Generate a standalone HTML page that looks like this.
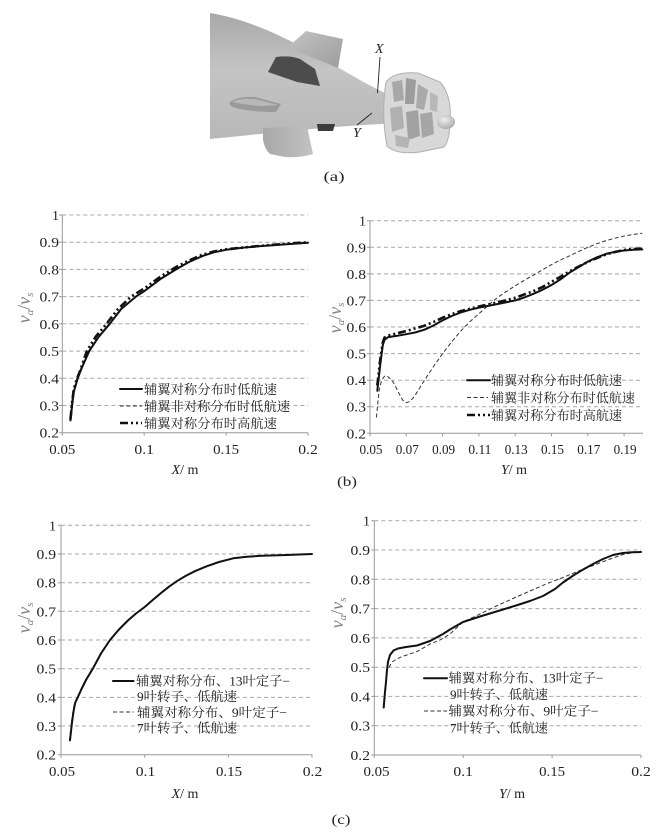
<!DOCTYPE html>
<html>
<head>
<meta charset="utf-8">
<style>
html,body{margin:0;padding:0;background:#fff;}
svg{display:block;}
.tk{font-family:"Liberation Serif","Noto Serif CJK SC",serif;font-size:14px;fill:#222;}
.lg{font-family:"Liberation Serif","Noto Serif CJK SC",serif;font-size:13px;fill:#222;}
.ti{font-family:"Liberation Serif",serif;font-size:14px;fill:#222;}
.yl{font-family:"Liberation Serif",serif;font-size:18px;fill:#808080;font-style:italic;}
.grid{stroke:#a8a8a8;stroke-width:1;stroke-dasharray:4,3;fill:none;}
.ax{stroke:#999;stroke-width:1;fill:none;}
.s{fill:none;stroke:#111;stroke-width:2;stroke-linejoin:round;stroke-linecap:round;}
.d{fill:none;stroke:#333;stroke-width:1;stroke-dasharray:4,2.5;stroke-linejoin:round;}
.dd{fill:none;stroke:#111;stroke-width:2.6;stroke-dasharray:8,3,2,3,2,3;stroke-linejoin:round;}
</style>
</head>
<body>
<svg width="662" height="837" viewBox="0 0 662 837" xmlns="http://www.w3.org/2000/svg">
<defs>
<linearGradient id="hull" x1="0" y1="0" x2="0" y2="1">
<stop offset="0" stop-color="#a8a8a8"/><stop offset="0.45" stop-color="#c4c4c4"/><stop offset="1" stop-color="#b8b8b8"/>
</linearGradient>
<linearGradient id="fin" x1="0" y1="0" x2="1" y2="1">
<stop offset="0" stop-color="#c4c4c4"/><stop offset="1" stop-color="#9c9c9c"/>
</linearGradient>
<linearGradient id="fin2" x1="0" y1="0" x2="1" y2="0">
<stop offset="0" stop-color="#a8a8a8"/><stop offset="1" stop-color="#c2c2c2"/>
</linearGradient>
<radialGradient id="hub" cx="0.4" cy="0.35" r="0.7">
<stop offset="0" stop-color="#f0f0f0"/><stop offset="1" stop-color="#a8a8a8"/>
</radialGradient>
</defs>

<!-- ===== (a) image ===== -->
<g>
<path d="M210,13 C240,18 270,30 300,46 C330,62 358,80 383,92 L388,96 L388,122 L383,124 C360,125 320,128 290,131 C260,134 232,137 210,139 Z" fill="url(#hull)"/>
<path d="M287,48 L306,31 L343,39 L338,68 Q315,58 287,48 Z" fill="url(#fin)"/>
<path d="M268,72 L276,57 Q290,55 300,59 L315,69 L320,86 L297,82 Z" fill="#4c4c4c"/>
<path d="M230,102 Q238,96 255,97 L281,104 L276,112 Q250,112 236,108 Q228,106 230,102 Z" fill="#9a9a9a"/>
<path d="M232,102 Q240,98 255,99 L278,105 L262,106 Q245,105 232,102 Z" fill="#b8b8b8"/>
<path d="M263,128 L307,126 L313,154 Q300,158 285,157 L270,154 Q265,150 263,140 Z" fill="url(#fin2)"/>
<path d="M317,124 L335,124 L333,131 L318,131 Z" fill="#3c3c3c"/>
<!-- duct -->
<path d="M386,82 Q394,71 418,73 L440,82 Q452,96 450,120 Q450,140 444,147 L420,152 Q396,155 387,146 Q381,115 386,82 Z" fill="#d8d8d8" stroke="#b0b0b0" stroke-width="1"/>
<path d="M392,82 L402,80 L404,100 L394,102 Z" fill="#a8a8a8"/>
<path d="M406,78 L416,80 L414,104 L405,104 Z" fill="#9c9c9c"/>
<path d="M418,84 L428,90 L424,110 L416,108 Z" fill="#aaaaaa"/>
<path d="M390,108 L402,106 L404,128 L392,132 Z" fill="#b0b0b0"/>
<path d="M406,112 L418,110 L420,136 L408,140 Z" fill="#a2a2a2"/>
<path d="M395,135 L410,138 L408,148 L396,146 Z" fill="#b4b4b4"/>
<path d="M420,114 L432,112 L434,134 L422,138 Z" fill="#a6a6a6"/>
<path d="M430,92 L438,96 L437,112 L430,110 Z" fill="#b8b8b8"/>
<ellipse cx="446" cy="122" rx="9" ry="7" fill="url(#hub)"/>
<!-- marker lines -->
<line x1="380" y1="57" x2="377.5" y2="93" stroke="#222" stroke-width="0.9"/>
<line x1="357" y1="125" x2="372" y2="113" stroke="#222" stroke-width="0.9"/>
<text x="375" y="53" class="ti" font-style="italic" font-size="14">X</text>
<text x="353" y="137" class="ti" font-style="italic" font-size="14">Y</text>
<text x="334" y="181" class="ti" text-anchor="middle" textLength="21" lengthAdjust="spacingAndGlyphs" font-size="15">(a)</text>
</g>

<!-- ===== (b) left ===== -->
<g>
<line class="grid" x1="62.3" y1="215" x2="308" y2="215"/>
<line class="grid" x1="62.3" y1="242.2" x2="308" y2="242.2"/>
<line class="grid" x1="62.3" y1="269.4" x2="308" y2="269.4"/>
<line class="grid" x1="62.3" y1="296.6" x2="308" y2="296.6"/>
<line class="grid" x1="62.3" y1="323.8" x2="308" y2="323.8"/>
<line class="grid" x1="62.3" y1="351.1" x2="308" y2="351.1"/>
<line class="grid" x1="62.3" y1="378.3" x2="308" y2="378.3"/>
<line class="grid" x1="62.3" y1="405.5" x2="308" y2="405.5"/>
<line class="ax" x1="62.3" y1="215" x2="62.3" y2="432.7"/>
<line class="ax" x1="62.3" y1="432.7" x2="308" y2="432.7"/>
<path class="ax" d="M59,215h3.3M59,242.2h3.3M59,269.4h3.3M59,296.6h3.3M59,323.8h3.3M59,351.1h3.3M59,378.3h3.3M59,405.5h3.3M59,432.7h3.3M62.3,432.7v3M144.2,432.7v3M226.1,432.7v3M308,432.7v3"/>
<g class="tk" text-anchor="end">
<text x="59" y="220">1</text>
<text x="59" y="247.2" textLength="19.5" lengthAdjust="spacingAndGlyphs">0.9</text>
<text x="59" y="274.4" textLength="19.5" lengthAdjust="spacingAndGlyphs">0.8</text>
<text x="59" y="301.6" textLength="19.5" lengthAdjust="spacingAndGlyphs">0.7</text>
<text x="59" y="328.8" textLength="19.5" lengthAdjust="spacingAndGlyphs">0.6</text>
<text x="59" y="356.1" textLength="19.5" lengthAdjust="spacingAndGlyphs">0.5</text>
<text x="59" y="383.3" textLength="19.5" lengthAdjust="spacingAndGlyphs">0.4</text>
<text x="59" y="410.5" textLength="19.5" lengthAdjust="spacingAndGlyphs">0.3</text>
<text x="59" y="437.7" textLength="19.5" lengthAdjust="spacingAndGlyphs">0.2</text>
</g>
<g class="tk" text-anchor="middle">
<text x="62.3" y="454" textLength="26" lengthAdjust="spacingAndGlyphs">0.05</text>
<text x="144.2" y="454" textLength="19.5" lengthAdjust="spacingAndGlyphs">0.1</text>
<text x="226.1" y="454" textLength="26" lengthAdjust="spacingAndGlyphs">0.15</text>
<text x="308" y="454" textLength="19.5" lengthAdjust="spacingAndGlyphs">0.2</text>
</g>
<text class="ti" x="185" y="474" text-anchor="middle" font-size="15"><tspan font-style="italic">X</tspan>/ m</text>
<text class="yl" transform="translate(30,308) rotate(-90)" text-anchor="middle">v<tspan font-size="11" dy="3">a</tspan><tspan dy="-3" font-style="normal">/</tspan>v<tspan font-size="11" dy="3">s</tspan></text>

<polyline class="d" points="69.7,420.4 71.3,405.5 73,391.9 74.6,386.4 76.9,378.3 81.2,367.4 88.5,351 97.5,337.4 109,323.8 120.5,308.9 135.2,296.6 143.4,291.2 159.8,278.9 175.3,269.4 188.2,262 202.2,255.8 213.2,252.3 225.3,249.8 241,247.8 258,246.3 283,244.5 308,242.8"/>
<polyline class="dd" points="70.5,419 72.1,402.7 73.8,389.1 76.2,381 80,371 86.9,351 95.5,337 106.5,323.8 118,309 131.1,296.6 144.2,288.5 160.6,276.5 177,266.5 189,260.5 201.5,255 214,251.5 226.1,249.3 258.9,246 283,244 308,242.2"/>
<polyline class="s" points="70.5,420.4 72.1,405.5 73.8,391.9 75.4,386.4 77.7,378.3 82,367.4 89.3,351 98.3,337.4 109.8,323.8 121.3,308.9 136,296.6 144.2,291.2 160.6,278.9 176.1,269.4 189,262 203,255.8 214,252.3 226.1,249.8 242,247.8 258.9,246.3 283,244.5 308,242.8"/>

<line class="s" x1="120" y1="389" x2="142" y2="389"/>
<line class="d" x1="120" y1="406" x2="142" y2="406"/>
<line class="dd" x1="120" y1="423" x2="142" y2="423"/>
<text class="lg" x="144" y="393.8" textLength="133" lengthAdjust="spacingAndGlyphs">辅翼对称分布时低航速</text>
<text class="lg" x="144" y="410.8" textLength="146" lengthAdjust="spacingAndGlyphs">辅翼非对称分布时低航速</text>
<text class="lg" x="144" y="427.8" textLength="133" lengthAdjust="spacingAndGlyphs">辅翼对称分布时高航速</text>
</g>

<!-- ===== (b) right ===== -->
<g>
<line class="grid" x1="370" y1="220.7" x2="643" y2="220.7"/>
<line class="grid" x1="370" y1="247.3" x2="643" y2="247.3"/>
<line class="grid" x1="370" y1="273.9" x2="643" y2="273.9"/>
<line class="grid" x1="370" y1="300.4" x2="643" y2="300.4"/>
<line class="grid" x1="370" y1="327" x2="643" y2="327"/>
<line class="grid" x1="370" y1="353.6" x2="643" y2="353.6"/>
<line class="grid" x1="370" y1="380.2" x2="643" y2="380.2"/>
<line class="grid" x1="370" y1="406.7" x2="643" y2="406.7"/>
<line class="ax" x1="370" y1="220.7" x2="370" y2="433.3"/>
<line class="ax" x1="370" y1="433.3" x2="643" y2="433.3"/>
<path class="ax" d="M367,220.7h3M367,247.3h3M367,273.9h3M367,300.4h3M367,327h3M367,353.6h3M367,380.2h3M367,406.7h3M367,433.3h3M370,433.3v3M406.3,433.3v3M442.6,433.3v3M478.9,433.3v3M515.2,433.3v3M551.5,433.3v3M587.8,433.3v3M624.1,433.3v3"/>
<g class="tk" text-anchor="end">
<text x="366" y="225.7">1</text>
<text x="366" y="252.3" textLength="19.5" lengthAdjust="spacingAndGlyphs">0.9</text>
<text x="366" y="278.9" textLength="19.5" lengthAdjust="spacingAndGlyphs">0.8</text>
<text x="366" y="305.4" textLength="19.5" lengthAdjust="spacingAndGlyphs">0.7</text>
<text x="366" y="332" textLength="19.5" lengthAdjust="spacingAndGlyphs">0.6</text>
<text x="366" y="358.6" textLength="19.5" lengthAdjust="spacingAndGlyphs">0.5</text>
<text x="366" y="385.2" textLength="19.5" lengthAdjust="spacingAndGlyphs">0.4</text>
<text x="366" y="411.7" textLength="19.5" lengthAdjust="spacingAndGlyphs">0.3</text>
<text x="366" y="438.3" textLength="19.5" lengthAdjust="spacingAndGlyphs">0.2</text>
</g>
<g class="tk" text-anchor="middle">
<text x="371" y="454" textLength="23" lengthAdjust="spacingAndGlyphs">0.05</text>
<text x="407.3" y="454" textLength="23" lengthAdjust="spacingAndGlyphs">0.07</text>
<text x="443.6" y="454" textLength="23" lengthAdjust="spacingAndGlyphs">0.09</text>
<text x="479.9" y="454" textLength="23" lengthAdjust="spacingAndGlyphs">0.11</text>
<text x="516.2" y="454" textLength="23" lengthAdjust="spacingAndGlyphs">0.13</text>
<text x="552.5" y="454" textLength="23" lengthAdjust="spacingAndGlyphs">0.15</text>
<text x="588.8" y="454" textLength="23" lengthAdjust="spacingAndGlyphs">0.17</text>
<text x="625.1" y="454" textLength="23" lengthAdjust="spacingAndGlyphs">0.19</text>
</g>
<text class="ti" x="514" y="474" text-anchor="middle" font-size="15"><tspan font-style="italic">Y</tspan>/ m</text>
<text class="yl" transform="translate(341,318) rotate(-90)" text-anchor="middle">v<tspan font-size="11" dy="3">a</tspan><tspan dy="-3" font-style="normal">/</tspan>v<tspan font-size="11" dy="3">s</tspan></text>

<polyline class="d" points="376.4,417.4 377.8,403 379.1,390.8 380.5,384.5 381.8,380.2 384.5,376.2 386.5,375.8 388.2,377 391,379.5 393.6,382.8 396.3,388 399,393.5 402.7,400.1 406.3,402.7 409.9,401.4 412.5,398.7 415.4,394.8 420,387.5 424.5,380.2 433.5,366.5 442.6,353.6 451.7,341.8 460.8,331 469.8,321.8 478.9,313.7 488,305.7 497.1,297.8 506,291.7 515.2,285.8 524.3,280.3 533.4,275.2 542.5,269.8 551.5,264.6 560.6,259.9 569.7,255.8 578.8,251.4 587.8,247.3 597,243.7 606,240.6 615,238.2 624.1,236.1 633,234.5 642.3,233.2"/>
<polyline class="dd" points="377.3,385.5 380,361.5 382.7,342.9 384.5,337.6 388.2,335.5 397.2,333.3 406.3,331 424.5,325.7 433.5,322 442.6,317.7 451.7,314.2 460.8,311.1 478.9,306.5 497.1,302.5 515.2,297.8 533.4,291.1 542.5,287 551.5,281.8 560.6,276.7 569.7,271.2 578.8,266.5 587.8,261.9 597,258 606,254.5 615,252 624.1,250 633,249 642.3,248.6"/>
<polyline class="s" points="377.3,390.8 380,366.9 382.7,345.6 384.5,339.8 388.2,337.1 397.2,335.8 406.3,334.2 415,332.5 424.5,329.7 433.5,325.5 442.6,320.4 451.7,316 460.8,312.4 469.8,309.8 478.9,307.6 497.1,304.1 515.2,300.4 524.3,297.5 533.4,293.8 542.5,289.8 551.5,285 560.6,279.3 569.7,272.5 578.8,267 587.8,261.6 597,257.3 606,253.9 615,251.8 624.1,250.5 633,249.8 642.3,249.4"/>

<line class="s" x1="467" y1="380.3" x2="490" y2="380.3"/>
<line class="d" x1="467" y1="397.5" x2="488" y2="397.5"/>
<line class="dd" x1="467" y1="415" x2="490" y2="415"/>
<text class="lg" x="491" y="385.1" textLength="131" lengthAdjust="spacingAndGlyphs">辅翼对称分布时低航速</text>
<text class="lg" x="491" y="402.3" textLength="144" lengthAdjust="spacingAndGlyphs">辅翼非对称分布时低航速</text>
<text class="lg" x="491" y="419.8" textLength="131" lengthAdjust="spacingAndGlyphs">辅翼对称分布时高航速</text>
</g>

<text class="ti" x="347" y="486" text-anchor="middle" textLength="20" lengthAdjust="spacingAndGlyphs" font-size="15">(b)</text>

<!-- ===== (c) left ===== -->
<g>
<line class="grid" x1="61" y1="525.3" x2="312" y2="525.3"/>
<line class="grid" x1="61" y1="554" x2="312" y2="554"/>
<line class="grid" x1="61" y1="582.7" x2="312" y2="582.7"/>
<line class="grid" x1="61" y1="611.3" x2="312" y2="611.3"/>
<line class="grid" x1="61" y1="640" x2="312" y2="640"/>
<line class="grid" x1="61" y1="668.7" x2="312" y2="668.7"/>
<line class="grid" x1="61" y1="697.4" x2="312" y2="697.4"/>
<line class="grid" x1="61" y1="726" x2="312" y2="726"/>
<line class="ax" x1="61" y1="525.3" x2="61" y2="754.7"/>
<line class="ax" x1="61" y1="754.7" x2="312" y2="754.7"/>
<path class="ax" d="M58,525.3h3M58,554h3M58,582.7h3M58,611.3h3M58,640h3M58,668.7h3M58,697.4h3M58,726h3M58,754.7h3M61,754.7v3M144.7,754.7v3M228.3,754.7v3M312,754.7v3"/>
<g class="tk" text-anchor="end">
<text x="56" y="530.3">1</text>
<text x="56" y="559" textLength="19.5" lengthAdjust="spacingAndGlyphs">0.9</text>
<text x="56" y="587.7" textLength="19.5" lengthAdjust="spacingAndGlyphs">0.8</text>
<text x="56" y="616.3" textLength="19.5" lengthAdjust="spacingAndGlyphs">0.7</text>
<text x="56" y="645" textLength="19.5" lengthAdjust="spacingAndGlyphs">0.6</text>
<text x="56" y="673.7" textLength="19.5" lengthAdjust="spacingAndGlyphs">0.5</text>
<text x="56" y="702.4" textLength="19.5" lengthAdjust="spacingAndGlyphs">0.4</text>
<text x="56" y="731" textLength="19.5" lengthAdjust="spacingAndGlyphs">0.3</text>
<text x="56" y="759.7" textLength="19.5" lengthAdjust="spacingAndGlyphs">0.2</text>
</g>
<g class="tk" text-anchor="middle">
<text x="62" y="776" textLength="26" lengthAdjust="spacingAndGlyphs">0.05</text>
<text x="145.5" y="776" textLength="19.5" lengthAdjust="spacingAndGlyphs">0.1</text>
<text x="229" y="776" textLength="26" lengthAdjust="spacingAndGlyphs">0.15</text>
<text x="312.5" y="776" textLength="19.5" lengthAdjust="spacingAndGlyphs">0.2</text>
</g>
<text class="ti" x="185" y="798" text-anchor="middle" font-size="15"><tspan font-style="italic">X</tspan>/ m</text>
<text class="yl" transform="translate(30,618) rotate(-90)" text-anchor="middle">v<tspan font-size="11" dy="3">a</tspan><tspan dy="-3" font-style="normal">/</tspan>v<tspan font-size="11" dy="3">s</tspan></text>

<polyline class="d" points="69.4,740.6 71.3,723.4 72.9,711.9 74.5,703.3 77.1,697.6 81.4,688.2 85.4,680.2 92.7,668 100.4,653.7 109.4,640.2 117.9,630.2 127.3,620.7 135.4,613.7 144.1,607.2 152.4,600 160.8,592.9 168.4,586.9 176.2,581.4 184.9,576.2 194.3,571.4 206,566.4 218.4,562 232.7,558.3 246.4,556.7 261.2,555.7 287,554.8 312,553.8"/>
<polyline class="s" points="70,740.4 71.9,723.2 73.5,711.7 75.1,703.1 77.7,697.4 82,688 86,680 93.3,667.8 101,653.5 110,640 118.5,630 127.9,620.5 136,613.5 144.7,607 153,599.8 161.4,592.7 169,586.7 176.8,581.2 185.5,576 194.9,571.2 206.6,566.3 219,562 233.3,558.3 247,556.7 261.8,555.8 287,555 312,554"/>

<line class="s" x1="113" y1="681" x2="133.5" y2="681"/>
<line class="d" x1="113" y1="712" x2="133.5" y2="712"/>
<text class="lg" x="136" y="685.3" textLength="154" lengthAdjust="spacingAndGlyphs">辅翼对称分布、13叶定子−</text>
<text class="lg" x="137" y="700.8" textLength="100" lengthAdjust="spacingAndGlyphs">9叶转子、低航速</text>
<text class="lg" x="137" y="716.8" textLength="150" lengthAdjust="spacingAndGlyphs">辅翼对称分布、9叶定子−</text>
<text class="lg" x="137" y="732.3" textLength="100" lengthAdjust="spacingAndGlyphs">7叶转子、低航速</text>
</g>

<!-- ===== (c) right ===== -->
<g>
<line class="grid" x1="374.3" y1="520.7" x2="641" y2="520.7"/>
<line class="grid" x1="374.3" y1="550" x2="641" y2="550"/>
<line class="grid" x1="374.3" y1="579.3" x2="641" y2="579.3"/>
<line class="grid" x1="374.3" y1="608.6" x2="641" y2="608.6"/>
<line class="grid" x1="374.3" y1="637.9" x2="641" y2="637.9"/>
<line class="grid" x1="374.3" y1="667.2" x2="641" y2="667.2"/>
<line class="grid" x1="374.3" y1="696.4" x2="641" y2="696.4"/>
<line class="grid" x1="374.3" y1="725.7" x2="641" y2="725.7"/>
<line class="ax" x1="374.3" y1="520.7" x2="374.3" y2="755"/>
<line class="ax" x1="374.3" y1="755" x2="641" y2="755"/>
<path class="ax" d="M371.3,520.7h3M371.3,550h3M371.3,579.3h3M371.3,608.6h3M371.3,637.9h3M371.3,667.2h3M371.3,696.4h3M371.3,725.7h3M371.3,755h3M374.3,755v3M463.2,755v3M552.1,755v3M641,755v3"/>
<g class="tk" text-anchor="end">
<text x="370" y="525.7">1</text>
<text x="370" y="555" textLength="19.5" lengthAdjust="spacingAndGlyphs">0.9</text>
<text x="370" y="584.3" textLength="19.5" lengthAdjust="spacingAndGlyphs">0.8</text>
<text x="370" y="613.6" textLength="19.5" lengthAdjust="spacingAndGlyphs">0.7</text>
<text x="370" y="642.9" textLength="19.5" lengthAdjust="spacingAndGlyphs">0.6</text>
<text x="370" y="672.2" textLength="19.5" lengthAdjust="spacingAndGlyphs">0.5</text>
<text x="370" y="701.4" textLength="19.5" lengthAdjust="spacingAndGlyphs">0.4</text>
<text x="370" y="730.7" textLength="19.5" lengthAdjust="spacingAndGlyphs">0.3</text>
<text x="370" y="760" textLength="19.5" lengthAdjust="spacingAndGlyphs">0.2</text>
</g>
<g class="tk" text-anchor="middle">
<text x="376.5" y="776" textLength="26" lengthAdjust="spacingAndGlyphs">0.05</text>
<text x="463.2" y="776" textLength="19.5" lengthAdjust="spacingAndGlyphs">0.1</text>
<text x="552.1" y="776" textLength="26" lengthAdjust="spacingAndGlyphs">0.15</text>
<text x="641" y="776" textLength="19.5" lengthAdjust="spacingAndGlyphs">0.2</text>
</g>
<text class="ti" x="512" y="798" text-anchor="middle" font-size="15"><tspan font-style="italic">Y</tspan>/ m</text>
<text class="yl" transform="translate(343,613) rotate(-90)" text-anchor="middle">v<tspan font-size="11" dy="3">a</tspan><tspan dy="-3" font-style="normal">/</tspan>v<tspan font-size="11" dy="3">s</tspan></text>

<polyline class="d" points="389,667.5 392,662 396,659.5 401.7,656.7 416.7,651.7 430,644 440,640 450,634 463,622 480,614 496.4,606 513,598.5 530,591 546,584 563,577.5 580,570.5 597,564 610,559 623,554.5 632,552.8 641,552"/>
<polyline class="s" points="383.7,707.5 385,692 386,682 387,670 388,662 390,655 393.5,650.5 398,648.5 406,647 417,645.5 430,641 443,634 450,629.5 463,622 480,616.5 496.4,611.5 516,605.5 530,601 543,596 555,589 563,582.5 574,575 584,569 594,563.5 603,559 613,555 623,553 632,552.3 641,552"/>

<line class="s" x1="424" y1="678.3" x2="447" y2="678.3"/>
<line class="d" x1="424" y1="711" x2="447" y2="711"/>
<text class="lg" x="448.5" y="682.5" textLength="155" lengthAdjust="spacingAndGlyphs">辅翼对称分布、13叶定子−</text>
<text class="lg" x="450" y="698.8" textLength="98" lengthAdjust="spacingAndGlyphs">9叶转子、低航速</text>
<text class="lg" x="448.5" y="715.5" textLength="150" lengthAdjust="spacingAndGlyphs">辅翼对称分布、9叶定子−</text>
<text class="lg" x="450" y="732.3" textLength="98" lengthAdjust="spacingAndGlyphs">7叶转子、低航速</text>
</g>

<text class="ti" x="341" y="824" text-anchor="middle" textLength="19" lengthAdjust="spacingAndGlyphs" font-size="15">(c)</text>
</svg>
</body>
</html>
